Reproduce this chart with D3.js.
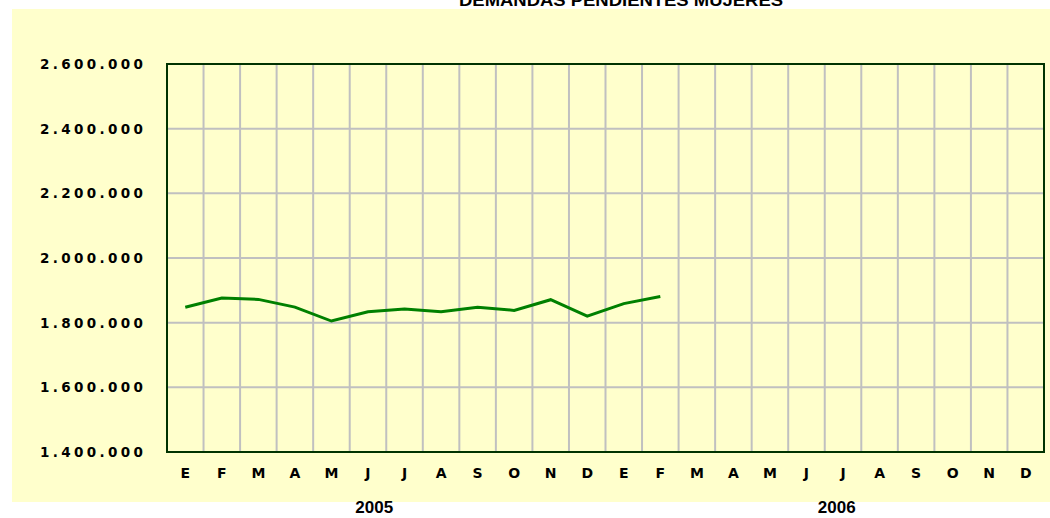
<!DOCTYPE html>
<html>
<head>
<meta charset="utf-8">
<script src="https://cdn.jsdelivr.net/npm/d3@7"></script>
<style>
  body { margin: 0; background: #fff; }
  text { font-family: "Liberation Sans", Arial, sans-serif; font-weight: bold; fill: #000; }
  .wide { font-family: "DejaVu Sans", Verdana, sans-serif; }
</style>
</head>
<body>
<div id="chart"></div>
<script>
// Data
var months = ["E", "F", "M", "A", "M", "J", "J", "A", "S", "O", "N", "D",
              "E", "F", "M", "A", "M", "J", "J", "A", "S", "O", "N", "D"];
var years = ["2005", "2006"];
var demandas = [1847500, 1876000, 1872000, 1848000, 1805000, 1834000, 1842000,
                1834000, 1848000, 1838000, 1871000, 1820000, 1859000, 1881000];
var yTicks = [1400000, 1600000, 1800000, 2000000, 2200000, 2400000, 2600000];
var title = "DEMANDAS PENDIENTES MUJERES";

var svgWidth = 1050;
var svgHeight = 518;

var margin = { top: 64, right: 6, bottom: 66, left: 167 };
var width = svgWidth - margin.left - margin.right;
var height = svgHeight - margin.top - margin.bottom;

var svg = d3.select("#chart")
  .append("svg")
  .attr("width", svgWidth)
  .attr("height", svgHeight);

// yellow chart area
svg.append("rect")
  .attr("x", 12)
  .attr("y", 9)
  .attr("width", svgWidth - 12)
  .attr("height", 493)
  .attr("fill", "#FFFFCC");

// title (cut off at the top in the original)
svg.append("text")
  .attr("x", 621)
  .attr("y", 6)
  .attr("text-anchor", "middle")
  .attr("font-size", 16)
  .attr("textLength", 324)
  .attr("lengthAdjust", "spacingAndGlyphs")
  .text(title);

var chartGroup = svg.append("g")
  .attr("transform", `translate(${margin.left}, ${margin.top})`);

var xScale = d3.scaleBand()
  .domain(d3.range(months.length))
  .range([0, width]);

var yScale = d3.scaleLinear()
  .domain([1400000, 2600000])
  .range([height, 0]);

// gridlines
chartGroup.selectAll(".hgrid")
  .data(yTicks.slice(1, -1))
  .enter()
  .append("line")
  .attr("x1", 0)
  .attr("x2", width)
  .attr("y1", d => yScale(d))
  .attr("y2", d => yScale(d))
  .attr("stroke", "#C0C0C0")
  .attr("stroke-width", 2);

chartGroup.selectAll(".vgrid")
  .data(d3.range(1, months.length))
  .enter()
  .append("line")
  .attr("x1", d => xScale(d))
  .attr("x2", d => xScale(d))
  .attr("y1", 0)
  .attr("y2", height)
  .attr("stroke", "#C0C0C0")
  .attr("stroke-width", 2);

// plot border
chartGroup.append("rect")
  .attr("width", width)
  .attr("height", height)
  .attr("fill", "none")
  .attr("stroke", "#003300")
  .attr("stroke-width", 2);

// y axis labels
var fmt = d3.formatLocale({ decimal: ",", thousands: ".", grouping: [3], currency: ["", ""] }).format(",d");
chartGroup.selectAll(".ylab")
  .data(yTicks)
  .enter()
  .append("text")
  .attr("class", "wide")
  .attr("x", -24)
  .attr("y", d => yScale(d) + 5)
  .attr("text-anchor", "end")
  .attr("font-size", 13.5)
  .attr("textLength", 103)
  .attr("lengthAdjust", "spacing")
  .text(d => fmt(d));

// month labels
chartGroup.selectAll(".xlab")
  .data(months)
  .enter()
  .append("text")
  .attr("class", "wide")
  .attr("x", (d, i) => xScale(i) + xScale.bandwidth() / 2)
  .attr("y", height + 26)
  .attr("text-anchor", "middle")
  .attr("font-size", 14)
  .text(d => d);

// year labels
chartGroup.selectAll(".year")
  .data(years)
  .enter()
  .append("text")
  .attr("x", (d, i) => xScale(i * 12) + 6 * xScale.bandwidth() + (i === 0 ? -12 : 12))
  .attr("y", height + 61)
  .attr("text-anchor", "middle")
  .attr("font-size", 17)
  .text(d => d);

// line
var line = d3.line()
  .x((d, i) => xScale(i) + xScale.bandwidth() / 2)
  .y(d => yScale(d));

chartGroup.append("path")
  .datum(demandas)
  .attr("d", line)
  .attr("fill", "none")
  .attr("stroke", "#008000")
  .attr("stroke-width", 3);
</script>
</body>
</html>
